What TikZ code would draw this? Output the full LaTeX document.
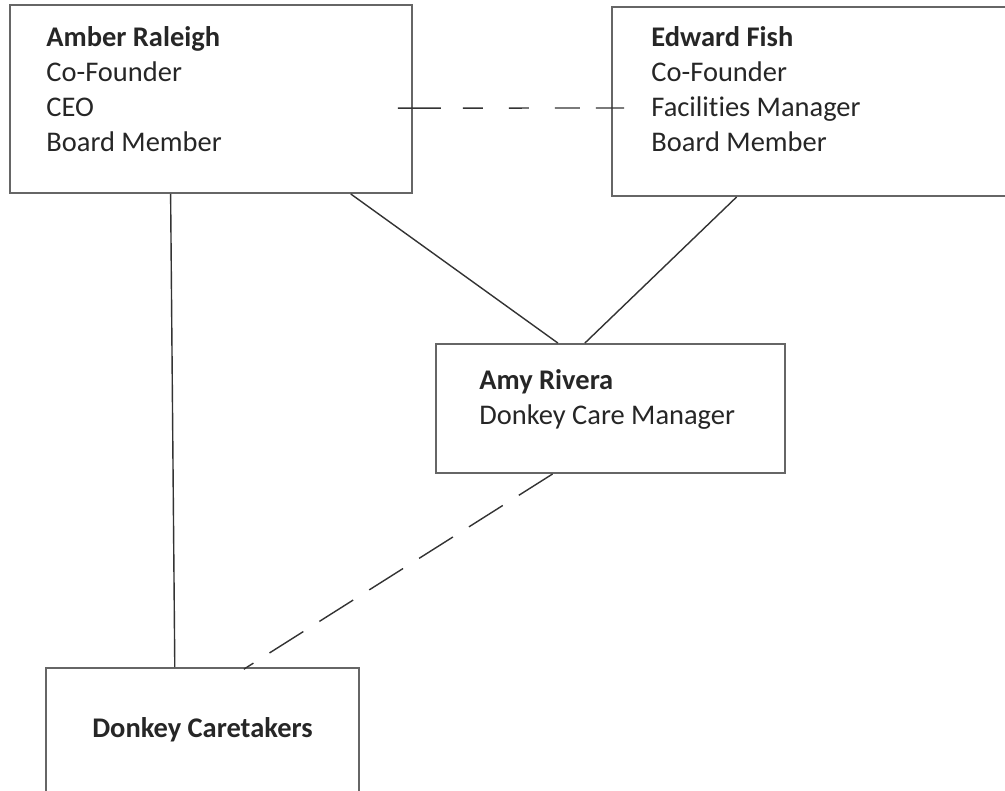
\documentclass[tikz,border=0pt]{standalone}
\usepackage{fontspec}
\setmainfont{Carlito}[Ligatures=NoCommon]
\usetikzlibrary{calc}

\tikzset{
  box/.style={draw=black!60, line width=1.1pt, rectangle, inner sep=0pt},
  info/.style={font=\fontsize{16.2}{19.9}\selectfont, align=left, inner sep=0pt, text=black!85},
  link/.style={draw=black!80, line width=0.8pt},
  dlink/.style={link, dash pattern=on 0.8cm off 0.38cm}
}

\begin{document}
\begin{tikzpicture}[x=0.02cm, y=-0.02cm]
\useasboundingbox (0,0) rectangle (1005,791);
% boxes of the chart
\node[box, minimum width=8.04cm, minimum height=3.76cm] (amber) at (211,99) {};
\node[box, minimum width=8cm, minimum height=3.78cm] (edward) at (812,101.5) {};
\node[box, minimum width=6.98cm, minimum height=2.58cm] (amy) at (610.5,408.5) {};
\node[box, minimum width=6.26cm, minimum height=2.64cm] (care) at (202.5,734) {};

% texts (base = last line)
\node[info, anchor=base west] (amberTxt) at ($(amber.north west)+(37,147)$)
  {\textbf{Amber Raleigh}\\Co-Founder\\CEO\\Board Member};
\node[info, anchor=base west] (edwardTxt) at ($(edward.north west)+(40,145)$)
  {\textbf{Edward Fish}\\Co-Founder\\Facilities Manager\\Board Member};
\node[info, anchor=base west] (amyTxt) at ($(amy.north west)+(44,81)$)
  {\textbf{Amy Rivera}\\Donkey Care Manager};
\node[info, anchor=base] (careTxt) at ($(care.north)+(0,70)$)
  {\textbf{Donkey Caretakers}};

% connectors
\draw[link, dash pattern=on 0.86cm off 0.44cm on 0.4cm off 0.52cm on 0.4cm off 0.52cm on 0.5cm off 0.32cm on 0.62cm off 1cm,
  shorten <=-0.3cm, shorten >=-0.26cm]
  ($(amber.north east)!0.548!(amber.south east)$) -- ($(edward.north west)!0.534!(edward.south west)$);
\draw[link] ($(amber.south west)!0.4!(amber.south east)$) -- ($(care.north west)!0.412!(care.north east)$);
\draw[link] ($(amber.south west)!0.846!(amber.south east)$) -- ($(amy.north west)!0.35!(amy.north east)$);
\draw[link] ($(edward.south west)!0.3125!(edward.south east)$) -- ($(amy.north west)!0.427!(amy.north east)$);
\draw[dlink, shorten >=-0.08cm]
  ($(amy.south west)!0.335!(amy.south east)$) -- ($(care.north west)!0.642!(care.north east)$);
\end{tikzpicture}
\end{document}
